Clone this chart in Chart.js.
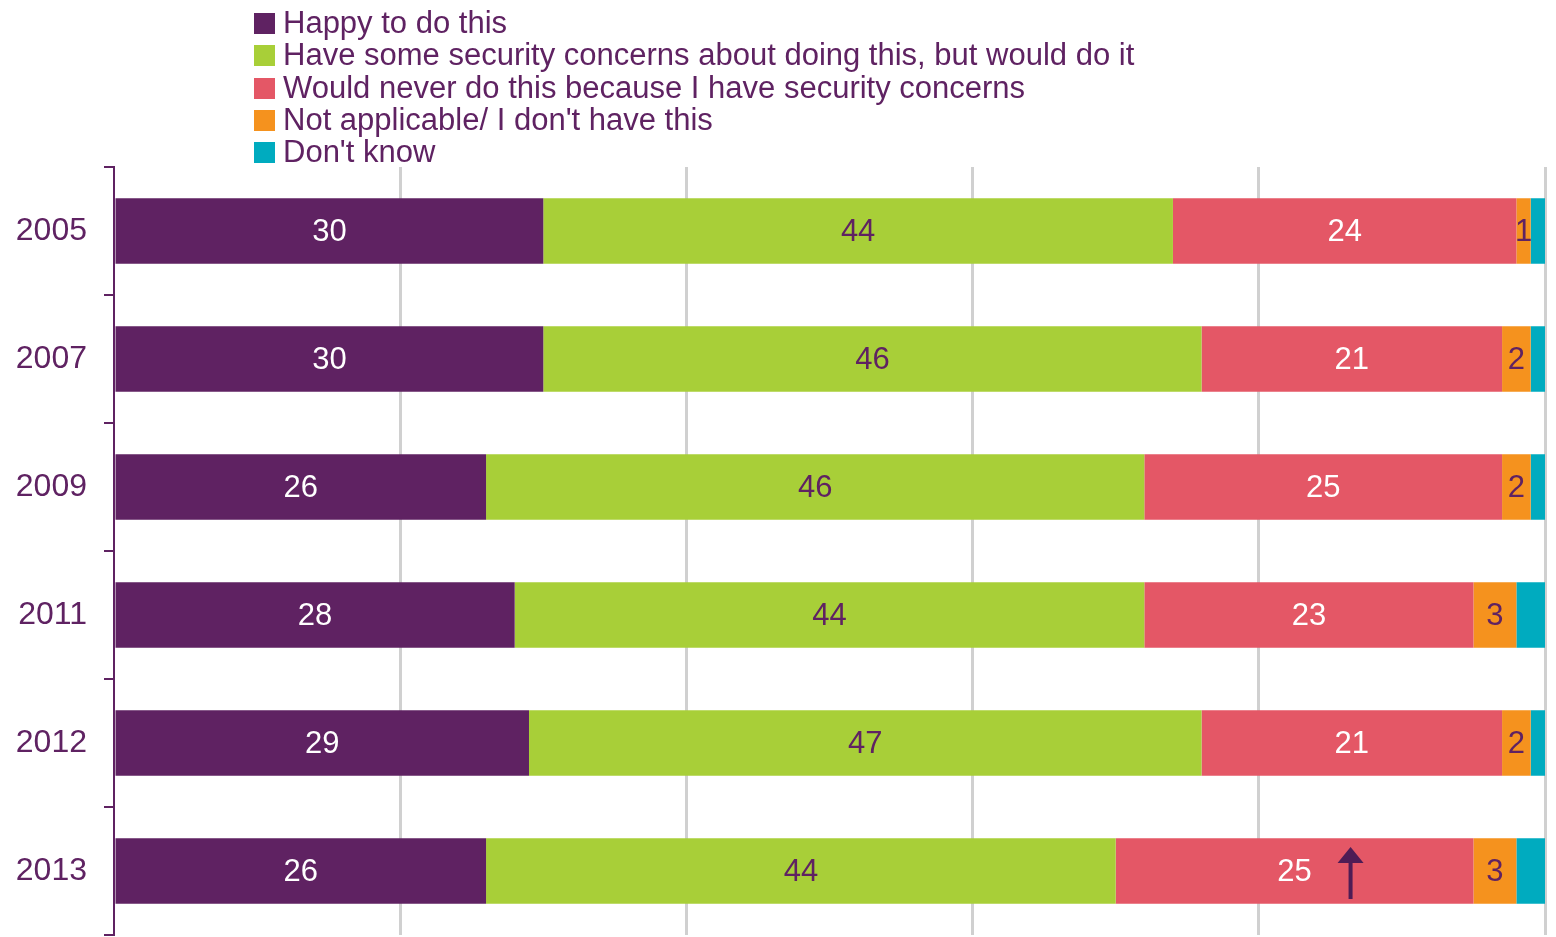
<!DOCTYPE html>
<html>
<head>
<meta charset="utf-8">
<title>Security concerns by year</title>
<script src="https://cdn.jsdelivr.net/npm/chart.js@4"></script>
<style>
  body { margin: 0; background: #fff; }
  #wrap { position: relative; width: 1556px; height: 937px; }
  #wrap canvas { display: block; }
  #legend { position: absolute; left: 254px; top: 7px; font-family: "Liberation Sans", Arial, sans-serif; font-size: 31px; color: #5f2262; }
  #legend div { height: 32.3px; line-height: 32px; white-space: nowrap; }
  #legend span { display: inline-block; width: 21px; height: 21px; margin-right: 8px; vertical-align: -1px; }
</style>
</head>
<body>
<div id="wrap">
  <canvas id="myChart" width="1556" height="937"></canvas>
  <div id="legend"></div>
</div>
<script>
const years = ["2005", "2007", "2009", "2011", "2012", "2013"];
const seriesNames = [
    "Happy to do this",
    "Have some security concerns about doing this, but would do it",
    "Would never do this because I have security concerns",
    "Not applicable/ I don't have this",
    "Don't know"
];
const happy = [30, 30, 26, 28, 29, 26];
const someConcerns = [44, 46, 46, 44, 47, 44];
const wouldNever = [24, 21, 25, 23, 21, 25];
const notApplicable = [1, 2, 2, 3, 2, 3];
const dontKnow = [1, 1, 1, 2, 1, 2];
// significant rise since previous wave, "Would never" only
const neverRise = [false, false, false, false, false, true];

const purple = "#5f2262";
const barColors = ["#5f2262", "#a8cf38", "#e45766", "#f5921e", "#00abbf"];
const labelColors = ["#ffffff", purple, "#ffffff", purple, null];
const values = [happy, someConcerns, wouldNever, notApplicable, dontKnow];

const font = '"Liberation Sans", Arial, sans-serif';

// value labels in the middle of each segment, arrow for significant change
const barLabels = {
    id: "barLabels",
    afterDatasetsDraw(chart) {
        const ctx = chart.ctx;
        ctx.save();
        ctx.font = "31px " + font;
        ctx.textAlign = "center";
        ctx.textBaseline = "middle";
        chart.data.datasets.forEach((ds, i) => {
            if (!labelColors[i]) return;
            chart.getDatasetMeta(i).data.forEach((bar, j) => {
                const cx = (bar.x + bar.base) / 2;
                ctx.fillStyle = labelColors[i];
                ctx.fillText(ds.data[j], cx, bar.y + 1);
                if (i === 2 && neverRise[j]) {
                    const ax = cx + 56;
                    ctx.fillStyle = "#4e1c55";
                    ctx.fillRect(ax - 2, bar.y - 12, 4, 40);
                    ctx.beginPath();
                    ctx.moveTo(ax, bar.y - 24);
                    ctx.lineTo(ax - 13, bar.y - 8);
                    ctx.lineTo(ax + 13, bar.y - 8);
                    ctx.closePath();
                    ctx.fill();
                }
            });
        });
        ctx.restore();
    }
};

const chart = new Chart("myChart", {
    type: "bar",
    data: {
        labels: years,
        datasets: seriesNames.map((name, i) => ({
            label: name,
            data: values[i],
            backgroundColor: barColors[i],
            borderWidth: 0,
            barPercentage: 0.51,
            categoryPercentage: 1
        }))
    },
    options: {
        indexAxis: "y",
        responsive: false,
        animation: false,
        layout: { padding: { top: 167, right: 11, bottom: 2, left: 0 } },
        plugins: {
            legend: { display: false },
            tooltip: { enabled: false }
        },
        scales: {
            x: {
                stacked: true,
                min: 0,
                max: 100,
                ticks: { display: false, stepSize: 20 },
                grid: {
                    drawTicks: false,
                    lineWidth: 3,
                    color: (c) => c.tick && c.tick.value === 0 ? "rgba(0,0,0,0)" : "#d0d0d0"
                },
                border: { display: false },
                afterFit(scale) { scale.height = 0; }
            },
            y: {
                stacked: true,
                ticks: { color: purple, font: { family: font, size: 32 }, padding: 17 },
                grid: { drawOnChartArea: false, tickLength: 10, color: purple, lineWidth: 2 },
                border: { color: purple, width: 2 },
                afterFit(scale) {
                    scale.width = 114;
                    scale.paddingTop = 0;
                    scale.paddingBottom = 0;
                }
            }
        }
    },
    plugins: [barLabels]
});

// legend, one series per line
const legend = document.getElementById("legend");
chart.data.datasets.forEach((ds) => {
    const row = document.createElement("div");
    const box = document.createElement("span");
    box.style.background = ds.backgroundColor;
    row.appendChild(box);
    row.appendChild(document.createTextNode(ds.label));
    legend.appendChild(row);
});
</script>
</body>
</html>
